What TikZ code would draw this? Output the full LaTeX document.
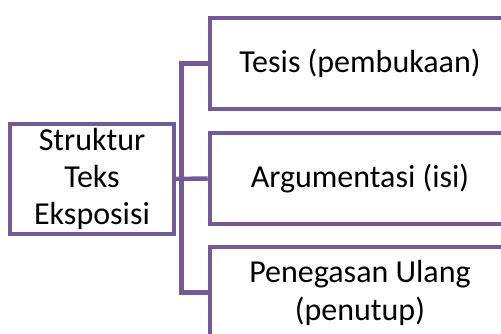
\documentclass[tikz,border=0pt]{standalone}
\usepackage{fontspec}
\setmainfont{Carlito}
\definecolor{ungu}{RGB}{114,90,152}
\begin{document}
\begin{tikzpicture}[x=1pt,y=1pt,draw=ungu,line width=4.5pt]
	\def \colone{92}
	\def \coltwo{360}
	\tikzstyle{root-node}=[rectangle,draw=ungu,fill=white,minimum width=164pt,minimum height=110pt,inner sep=0pt,align=center,font=\fontsize{32}{37}\selectfont]
	\tikzstyle{part-node}=[rectangle,draw=ungu,fill=white,minimum width=300pt,minimum height=91pt,inner sep=0pt,align=center,font=\fontsize{32}{38}\selectfont]
	\clip (0,0) rectangle (501,334);
	\useasboundingbox (0,0) rectangle (501,334);
	\node[root-node] 	(root)	at (\colone,155)	{Struktur\\Teks\\Eksposisi};
	% parts of the text
	\node[part-node] 	(p0)	at (\coltwo,270.5)	{Tesis (pembukaan)};
	\node[part-node] 	(p1)	at (\coltwo,155.5)	{Argumentasi (isi)};
	\node[part-node] 	(p2)	at (\coltwo,41.5)	{Penegasan Ulang\\(penutup)};
	\draw (root.east) -- ++(5,0) |- (p0.west);
	\draw (root.east) -- (p1.west);
	\draw (root.east) -- ++(5,0) |- (p2.west);
\end{tikzpicture}
\end{document}
